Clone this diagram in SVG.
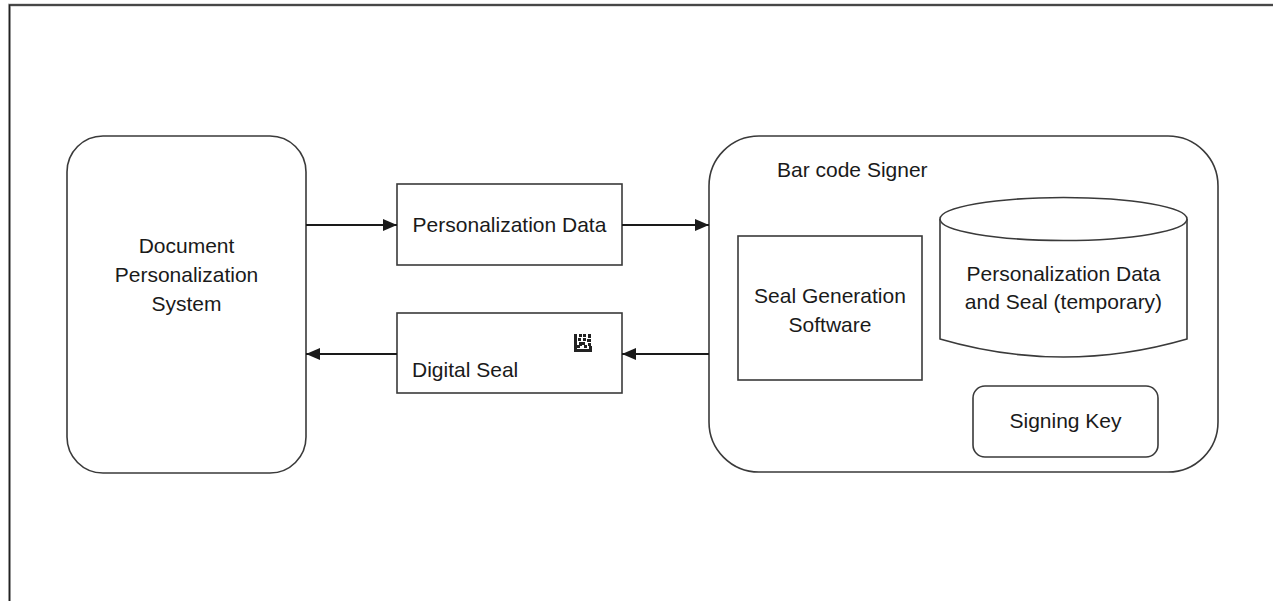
<svg xmlns="http://www.w3.org/2000/svg" width="1273" height="601" viewBox="0 0 1273 601">
<style>
.box{fill:#fff;stroke:#3a3a3a;stroke-width:1.6}
.t{font-family:"Liberation Sans",Arial,sans-serif;font-size:21px;fill:#1a1a1a}
.c{text-anchor:middle}
.ln{stroke:#1a1a1a;stroke-width:2;fill:none}
</style>
<defs>
<marker id="ah" viewBox="0 0 14 12" refX="14" refY="6" markerWidth="14" markerHeight="12" markerUnits="userSpaceOnUse" orient="auto">
<path d="M0,0 L14,6 L0,12 z" fill="#1a1a1a"/>
</marker>
</defs>
<rect width="1273" height="601" fill="#fff"/>
<g id="frame">
<path d="M9.5,601 V5 H1273" fill="none" stroke="#bbb" stroke-width="3"/>
<path d="M9.5,601 V5 H1273" fill="none" stroke="#222" stroke-width="1.5"/>
</g>
<g id="dps">
<rect class="box" x="67" y="136" width="239" height="337" rx="36" ry="36"/>
<text class="t c" x="186.5" y="253">Document</text>
<text class="t c" x="186.5" y="282">Personalization</text>
<text class="t c" x="186.5" y="311">System</text>
</g>
<g id="pdata">
<rect class="box" x="397" y="184" width="225" height="81"/>
<text class="t c" x="509.5" y="232">Personalization Data</text>
</g>
<g id="dseal">
<rect class="box" x="397" y="313" width="225" height="80"/>
<text class="t" x="412" y="377">Digital Seal</text>
<g fill="#222">
<rect x="574" y="334" width="3" height="18"/>
<rect x="574" y="349" width="18" height="3"/>
<rect x="579" y="334" width="3" height="3"/>
<rect x="583" y="334" width="3" height="3"/>
<rect x="588" y="334" width="3" height="4"/>
<rect x="578" y="338" width="3" height="3"/>
<rect x="583" y="338" width="3" height="3"/>
<rect x="587" y="339" width="4" height="3"/>
<rect x="579" y="342" width="3" height="4"/>
<rect x="582" y="342" width="3" height="3"/>
<rect x="588" y="343" width="3" height="3"/>
<rect x="577" y="345" width="3" height="3"/>
<rect x="584" y="345" width="3" height="3"/>
<rect x="589" y="346" width="3" height="3"/>
</g>
</g>
<g id="signer">
<rect class="box" x="709" y="136" width="509" height="336" rx="50" ry="50"/>
<text class="t" x="777" y="177">Bar code Signer</text>
</g>
<g id="sgs">
<rect class="box" x="738" y="236" width="184" height="144"/>
<text class="t c" x="830" y="303">Seal Generation</text>
<text class="t c" x="830" y="332">Software</text>
</g>
<g id="store">
<path class="box" d="M940,219 V339 Q1063.5,375 1187,339 V219"/>
<ellipse class="box" cx="1063.5" cy="219" rx="123.5" ry="21.5"/>
<text class="t c" x="1063.5" y="281">Personalization Data</text>
<text class="t c" x="1063.5" y="309">and Seal (temporary)</text>
</g>
<g id="key">
<rect class="box" x="973" y="386" width="185" height="71" rx="12" ry="12"/>
<text class="t c" x="1065.5" y="428">Signing Key</text>
</g>
<g id="connectors">
<line class="ln" x1="306" y1="225" x2="397" y2="225" marker-end="url(#ah)"/>
<line class="ln" x1="622" y1="225" x2="709" y2="225" marker-end="url(#ah)"/>
<line class="ln" x1="709" y1="354" x2="622" y2="354" marker-end="url(#ah)"/>
<line class="ln" x1="397" y1="354" x2="306" y2="354" marker-end="url(#ah)"/>
</g>
</svg>
